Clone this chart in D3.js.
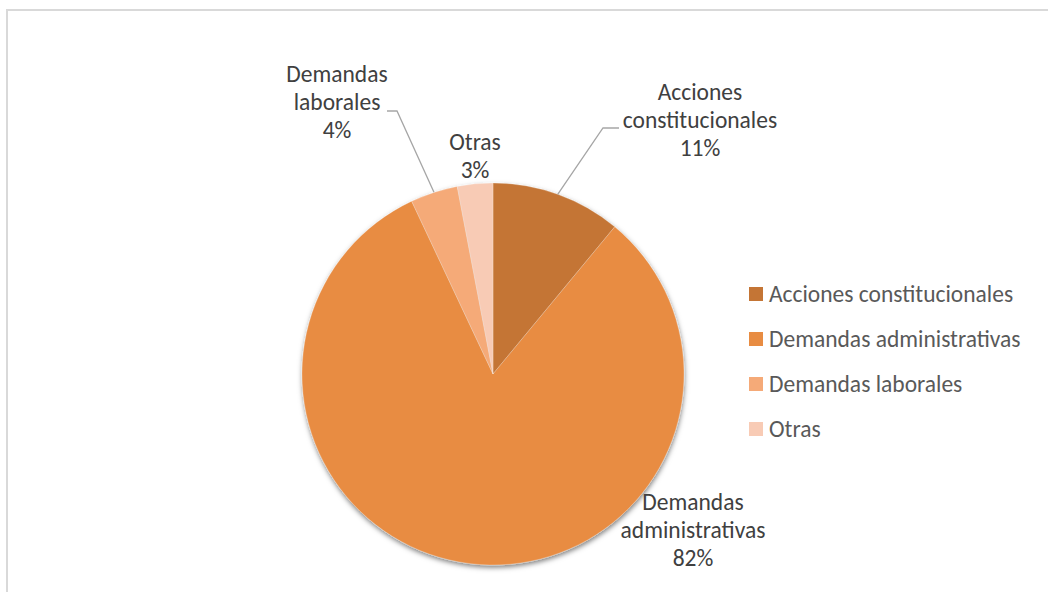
<!DOCTYPE html>
<html>
<head>
<meta charset="utf-8">
<script src="https://cdn.jsdelivr.net/npm/d3@7"></script>
<style>
  html, body { margin: 0; padding: 0; background: #fff; }
  svg { display: block; }
</style>
</head>
<body>
<svg id="chart" width="1048" height="592"></svg>
<script>
// Case categories and their share of the total (%)
const categories = ["Acciones constitucionales", "Demandas administrativas", "Demandas laborales", "Otras"];
const values = [11, 82, 4, 3];
const labelLines = [
  ["Acciones", "constitucionales"],
  ["Demandas", "administrativas"],
  ["Demandas", "laborales"],
  ["Otras"]
];
const colors = ["#C47535", "#E88C42", "#F5AA78", "#F8CBB5"];

// Layout
const W = 1048, H = 592;
const cx = 493, cy = 374, R = 191;
const fontFamily = "Carlito, Calibri, Lato, sans-serif";
const fontSize = 23.5;
const lineH = 28;

// Label placement relative to the pie centre (dx = text centre, dy = first baseline)
const labelLayout = [
  { dx: 207,  dy: -274, elbow: [110, -246], end: [126, -246] },
  { dx: 200,  dy: 136 },
  { dx: -156, dy: -292, elbow: [-96, -263], end: [-106, -263] },
  { dx: -18,  dy: -224 }
];

const svg = d3.select("#chart");

// Chart area frame
svg.append("rect")
  .attr("x", 7).attr("y", 10)
  .attr("width", W + 20).attr("height", H + 20)
  .attr("fill", "#fff")
  .attr("stroke", "#d9d9d9")
  .attr("stroke-width", 2);

const defs = svg.append("defs");
const shadow = defs.append("filter").attr("id", "pieShadow")
  .attr("x", "-20%").attr("y", "-20%").attr("width", "140%").attr("height", "140%");
shadow.append("feDropShadow")
  .attr("dx", 0.5).attr("dy", 2.5)
  .attr("stdDeviation", 2.8)
  .attr("flood-color", "#000")
  .attr("flood-opacity", 0.5);

const data = categories.map((c, i) => ({ name: c, value: values[i], color: colors[i], lines: labelLines[i], layout: labelLayout[i] }));

const pie = d3.pie().value(d => d.value).sort(null);
const arc = d3.arc().innerRadius(0).outerRadius(R);
const arcs = pie(data);

const g = svg.append("g").attr("transform", `translate(${cx},${cy})`);

g.append("g").attr("filter", "url(#pieShadow)")
  .selectAll("path")
  .data(arcs)
  .join("path")
  .attr("d", arc)
  .attr("fill", d => d.data.color)
  .attr("stroke", "#fff")
  .attr("stroke-width", 0.4)
  .attr("stroke-opacity", 0.6);

// Leader lines: from the slice's outer edge at its mid-angle, to an elbow, then horizontal
g.selectAll("polyline.leader")
  .data(arcs.filter(d => d.data.layout.elbow))
  .join("polyline")
  .attr("class", "leader")
  .attr("fill", "none")
  .attr("stroke", "#a6a6a6")
  .attr("stroke-width", 1.3)
  .attr("points", d => {
    const a = (d.startAngle + d.endAngle) / 2;
    const p0 = [Math.sin(a) * R, -Math.cos(a) * R];
    return [p0, d.data.layout.elbow, d.data.layout.end].map(p => p.join(",")).join(" ");
  });

// Data labels: category name and percentage
const labels = g.selectAll("text.label")
  .data(arcs)
  .join("text")
  .attr("class", "label")
  .attr("text-anchor", "middle")
  .attr("font-family", fontFamily)
  .attr("font-size", fontSize)
  .attr("fill", "#404040");

labels.each(function(d) {
  const t = d3.select(this);
  const lines = d.data.lines.concat([d3.format(".0f")(d.data.value) + "%"]);
  lines.forEach((ln, i) => {
    t.append("tspan")
      .attr("x", d.data.layout.dx)
      .attr("y", d.data.layout.dy + i * lineH)
      .text(ln);
  });
});

// Legend
const legendX = 749, legendY = 294, legendStep = 45;
const legend = svg.append("g").selectAll("g")
  .data(data)
  .join("g")
  .attr("transform", (d, i) => `translate(${legendX},${legendY + i * legendStep})`);

legend.append("rect")
  .attr("x", 0).attr("y", -7)
  .attr("width", 14).attr("height", 14)
  .attr("fill", d => d.color);

legend.append("text")
  .attr("x", 20)
  .attr("y", 0)
  .attr("dy", "0.35em")
  .attr("font-family", fontFamily)
  .attr("font-size", fontSize)
  .attr("fill", "#595959")
  .text(d => d.name);
</script>
</body>
</html>
